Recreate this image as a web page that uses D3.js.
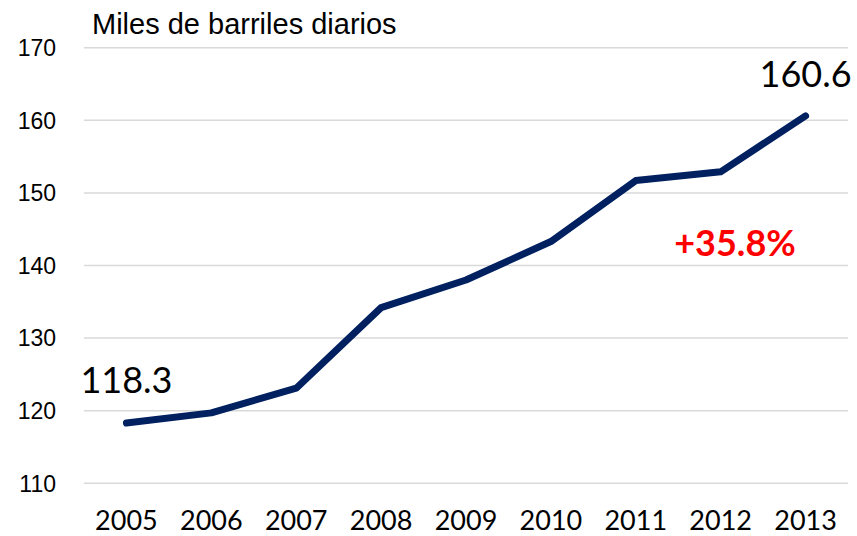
<!doctype html>
<html>
  <head>
    <meta charset="utf-8"/>
    <title>Miles de barriles diarios</title>
    <style>
      body, html {
        padding: 0;
        margin: 0;
        border: 0;
        background: #fff;
      }
      .ytick { font-family: "Liberation Sans", Arial, sans-serif; font-size: 23px; fill: #000; }
      .xtick { font-family: Lato, "Open Sans", sans-serif; font-size: 27px; fill: #000; }
      .title { font-family: "Liberation Sans", Arial, sans-serif; font-size: 29px; fill: #000; }
      .endlabel { font-family: Lato, "Open Sans", sans-serif; font-size: 36px; fill: #000; }
      .growth { font-family: Lato, "Open Sans", sans-serif; font-size: 36px; font-weight: bold; fill: #ff0000; }
    </style>
    <script src="https://d3js.org/d3.v7.min.js"></script>
  </head>
  <body>
    <svg id="chart" width="857" height="536"></svg>

    <script>
      var years = ["2005", "2006", "2007", "2008", "2009", "2010", "2011", "2012", "2013"];
      var barrels = [118.3, 119.7, 123.1, 134.2, 138.0, 143.3, 151.7, 152.9, 160.6];
      var yTicks = [110, 120, 130, 140, 150, 160, 170];
      var growthLabel = "+35.8%";

      var svg = d3.select("#chart");

      var x = d3.scalePoint()
        .domain(years)
        .range([84, 848])
        .padding(0.5);

      var y = d3.scaleLinear()
        .domain([110, 170])
        .range([483.3, 47.7]);

      // gridlines
      svg.selectAll(".grid")
        .data(yTicks)
        .enter().append("line")
          .attr("class", "grid")
          .attr("x1", 84)
          .attr("x2", 848)
          .attr("y1", function(d) { return y(d); })
          .attr("y2", function(d) { return y(d); })
          .attr("stroke", "#d9d9d9")
          .attr("stroke-width", 1.5);

      svg.selectAll(".ytick")
        .data(yTicks)
        .enter().append("text")
          .attr("class", "ytick")
          .attr("x", 56)
          .attr("y", function(d) { return y(d); })
          .attr("dy", "0.36em")
          .attr("text-anchor", "end")
          .text(function(d) { return d; });

      svg.selectAll(".xtick")
        .data(years)
        .enter().append("text")
          .attr("class", "xtick")
          .attr("x", function(d) { return x(d); })
          .attr("y", 530)
          .attr("text-anchor", "middle")
          .text(function(d) { return d; });

      svg.append("text")
        .attr("class", "title")
        .attr("x", 92)
        .attr("y", 34)
        .text("Miles de barriles diarios");

      var line = d3.line()
        .x(function(d, i) { return x(years[i]); })
        .y(function(d) { return y(d); });

      svg.append("path")
        .datum(barrels)
        .attr("d", line)
        .attr("fill", "none")
        .attr("stroke", "#002060")
        .attr("stroke-width", 7)
        .attr("stroke-linejoin", "round")
        .attr("stroke-linecap", "round");

      var first = barrels[0], last = barrels[barrels.length - 1];

      svg.append("text")
        .attr("class", "endlabel")
        .attr("x", x(years[0]))
        .attr("y", y(first) - 30)
        .attr("text-anchor", "middle")
        .text(first.toFixed(1));

      svg.append("text")
        .attr("class", "endlabel")
        .attr("x", x(years[years.length - 1]))
        .attr("y", y(last) - 29)
        .attr("text-anchor", "middle")
        .text(last.toFixed(1));

      svg.append("text")
        .attr("class", "growth")
        .attr("x", 735)
        .attr("y", 256)
        .attr("text-anchor", "middle")
        .text(growthLabel);
    </script>
  </body>
</html>
